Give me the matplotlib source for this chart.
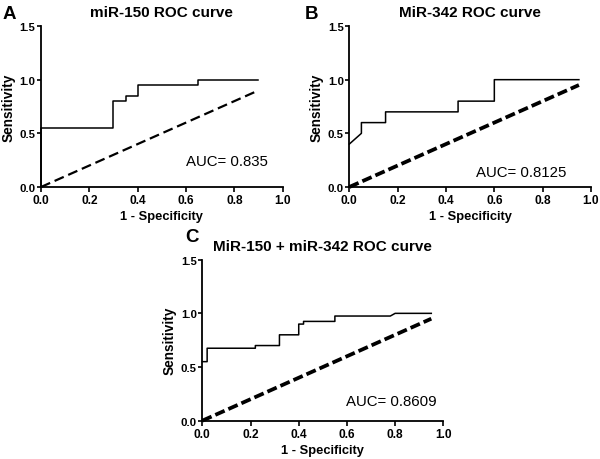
import matplotlib
matplotlib.use("Agg")
import matplotlib.pyplot as plt

plt.rcParams['font.family'] = ['Liberation Sans', 'DejaVu Sans']

# Panel A: miR-150
a_fpr = [0.0, 0.0, 0.30, 0.30, 0.35, 0.35, 0.40, 0.40, 0.65, 0.65, 0.90]
a_tpr = [0.0, 0.55, 0.55, 0.80, 0.80, 0.85, 0.85, 0.95, 0.95, 1.00, 1.00]
a_ref = [0.0, 0.90]
a_auc = "AUC= 0.835"

# Panel B: MiR-342
b_fpr = [0.0, 0.05, 0.05, 0.15, 0.15, 0.45, 0.45, 0.60, 0.60, 0.95]
b_tpr = [0.40, 0.50, 0.60, 0.60, 0.70, 0.70, 0.80, 0.80, 1.00, 1.00]
b_ref = [0.0, 0.95]
b_auc = "AUC= 0.8125"

# Panel C: combined
c_fpr = [0.0, 0.02, 0.02, 0.22, 0.22, 0.32, 0.32, 0.40, 0.40, 0.42, 0.42, 0.55, 0.55, 0.78, 0.80, 0.95]
c_tpr = [0.55, 0.55, 0.675, 0.675, 0.70, 0.70, 0.80, 0.80, 0.90, 0.90, 0.925, 0.925, 0.975, 0.975, 1.00, 1.00]
c_ref = [0.0, 0.95]
c_auc = "AUC= 0.8609"

x_ticks = [0.0, 0.2, 0.4, 0.6, 0.8, 1.0]
y_ticks = [0.0, 0.5, 1.0, 1.5]

fig = plt.figure(figsize=(6, 4.6), dpi=100)

panels = [
    dict(rect=[0.0683, 0.5913, 0.4028, 0.35], fpr=a_fpr, tpr=a_tpr, ref=a_ref, dlw=1.6, dash=(0, (4.5, 2.2)),
         title="miR-150 ROC curve", letter="A", auc=a_auc, auc_xy=(0.60, 0.245), letter_xy=(0.004, 0.988)),
    dict(rect=[0.5822, 0.5913, 0.4028, 0.35], fpr=b_fpr, tpr=b_tpr, ref=b_ref, dlw=2.7, dash=(0, (2.7, 1.1)),
         title="MiR-342 ROC curve", letter="B", auc=b_auc, auc_xy=(0.524, 0.14), letter_xy=(0.508, 0.988)),
    dict(rect=[0.3372, 0.0833, 0.4017, 0.35], fpr=c_fpr, tpr=c_tpr, ref=c_ref, dlw=2.7, dash=(0, (2.7, 1.1)),
         title="MiR-150 + miR-342 ROC curve", letter="C", auc=c_auc, auc_xy=(0.595, 0.186), letter_xy=(0.308, 0.502)),
]

for p in panels:
    ax = fig.add_axes(p["rect"])
    ax.plot(p["fpr"], p["tpr"], color="black", lw=1.1, clip_on=False)
    ax.plot(p["ref"], p["ref"], color="black", lw=p["dlw"], ls=p["dash"], clip_on=False)
    ax.set_xlim(0, 1.0)
    ax.set_ylim(0, 1.5)
    ax.set_xticks(x_ticks)
    ax.set_yticks(y_ticks)
    ax.set_xticklabels([f"{v:.1f}" for v in x_ticks], fontweight="bold", fontsize=8.6)
    ax.set_yticklabels([f"{v:.1f}" for v in y_ticks], fontweight="bold", fontsize=8.2)
    ax.tick_params(axis="x", direction="out", length=3.5, width=1.2, pad=1.5)
    ax.tick_params(axis="y", direction="out", length=3, width=1.2, pad=1)
    for s in ["top", "right"]:
        ax.spines[s].set_visible(False)
    for s in ["left", "bottom"]:
        ax.spines[s].set_linewidth(1.3)
    ax.set_xlabel("1 - Specificity", fontweight="bold", fontsize=9.3, labelpad=3)
    ax.set_ylabel("Sensitivity", fontweight="bold", fontsize=9.8, labelpad=3)
    ax.set_title(p["title"], fontweight="bold", fontsize=11, pad=7)
    ax.text(p["auc_xy"][0], p["auc_xy"][1], p["auc"], fontsize=10.8, va="center", ha="left")
    fig.text(p["letter_xy"][0], p["letter_xy"][1], p["letter"], fontsize=13.5, fontweight="bold",
             va="top", ha="left")

fig.savefig("out.png", dpi=100)
